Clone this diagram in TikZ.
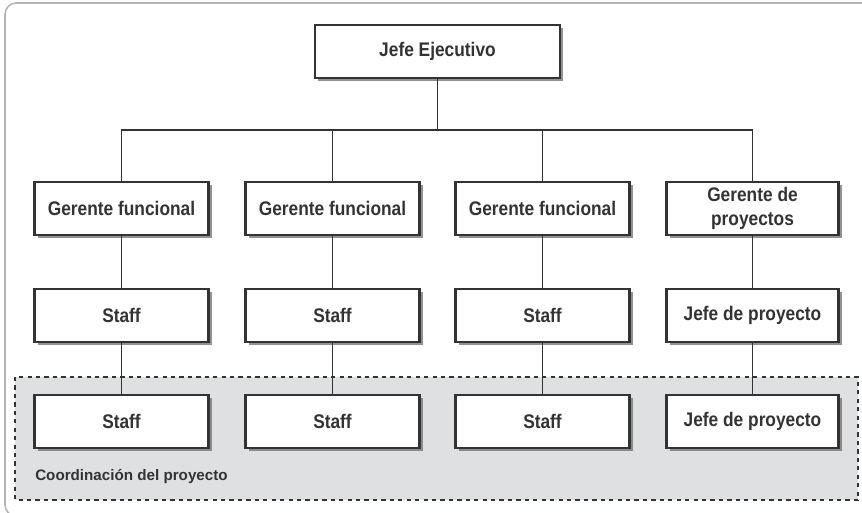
\documentclass[tikz,border=0pt]{standalone}
\usepackage{fontspec}
\setmainfont{Liberation Sans}
\newfontfamily\boxfont{Liberation Sans}[FakeStretch=0.88]
\usetikzlibrary{shadows}
\definecolor{ink}{HTML}{333333}
\definecolor{frame}{HTML}{B4B4B8}
\definecolor{zone}{HTML}{DFE0E2}
\definecolor{shade}{HTML}{6E6E6E}
\tikzset{
  every node/.style={font=\boxfont\bfseries\fontsize{14}{16.5}\selectfont,text=ink,inner sep=0pt},
  role/.style={draw=ink,line width=1.5pt,fill=white,minimum width=4.35cm,minimum height=1.33cm,align=center,
    drop shadow={shadow xshift=2.2pt,shadow yshift=-2.2pt,fill=shade,opacity=.75}},
  link/.style={draw=ink,line width=1.05pt},
  zonetext/.style={font=\rmfamily\bfseries\fontsize{10.8}{13}\selectfont,anchor=west},
}
\begin{document}
\begin{tikzpicture}[x=0.025cm,y=-0.025cm]
\path[use as bounding box] (0,0) rectangle (862,513);
\begin{scope}
\clip (0,0) rectangle (862,513);
\draw[frame,line width=1.1pt,rounded corners=8] (5,3) rectangle (880,516);
\end{scope}
% Project coordination zone behind the bottom row.
\draw[fill=zone,draw=ink,line width=1pt,dashed] (15,377) rectangle (858,500);
\node[zonetext] (zonelbl) at (35,477) {Coordinación del proyecto};
% Top of the chart.
\node[role,minimum width=6.12cm] (jefe) at (437.5,51.5) {Jefe Ejecutivo};
\coordinate (bus) at (437.5,130);
% Three functional columns plus the project column.
\foreach \x/\i in {121.5/1,332.5/2,542.5/3}{
  \node[role] (ger\i) at (\x,208.5) {Gerente funcional};
  \node[role] (staffa\i) at (\x,315.5) {Staff};
  \node[role] (staffb\i) at (\x,421.5) {Staff};
}
\node[role,minimum width=4.3cm] (ger4) at (752.5,208.5) {Gerente de\\proyectos};
\node[role,minimum width=4.3cm] (jefpa) at (752.5,315.5) {Jefe de proyecto};
\node[role,minimum width=4.3cm] (jefpb) at (752.5,421.5) {Jefe de proyecto};
% Connectors.
\draw[link] (jefe.south) -- (bus);
\draw[link] (ger1.north) |- (bus) -| (ger4.north);
\foreach \i in {2,3}{\draw[link] (ger\i.north) -- (ger\i.north |- bus);}
\foreach \i in {1,2,3}{
  \draw[link] (ger\i) -- (staffa\i);
  \draw[link] (staffa\i) -- (staffb\i);
}
\draw[link] (ger4) -- (jefpa);
\draw[link] (jefpa) -- (jefpb);
\end{tikzpicture}
\end{document}
